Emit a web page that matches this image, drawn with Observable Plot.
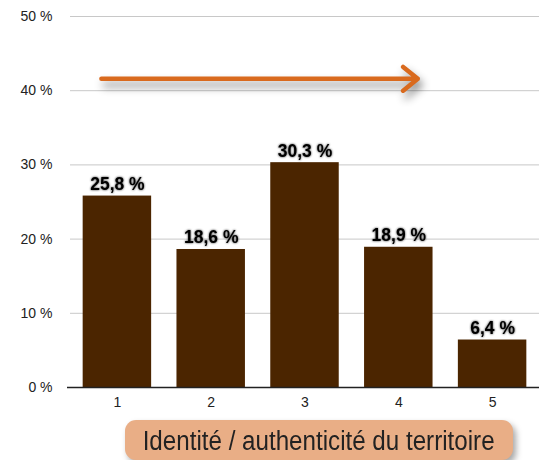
<!DOCTYPE html>
<html>
<head>
<meta charset="utf-8">
<script src="https://cdn.jsdelivr.net/npm/d3@7"></script>
<script src="https://cdn.jsdelivr.net/npm/@observablehq/plot@0.6"></script>
<style>
  html, body { margin: 0; padding: 0; background: #fff; }
  #chart { width: 549px; }
  .caption {
    margin-left: 125px; margin-top: 2px;
    width: 388px; height: 40px;
    background: #E9AE86; border-radius: 11px;
    box-shadow: 3px 4px 6px rgba(0,0,0,0.35);
    display: flex; align-items: center; justify-content: center;
    overflow: visible;
  }
  .caption span {
    font-family: "Liberation Sans", Arial, sans-serif;
    font-size: 27px; color: #222; white-space: nowrap;
    display: inline-block; transform: scaleX(0.895); transform-origin: center;
    position: relative; top: 1px;
  }
</style>
</head>
<body>
<div id="chart"></div>
<script>
const categories = ["1", "2", "3", "4", "5"];
const values = [25.8, 18.6, 30.3, 18.9, 6.4];
const yTicks = [0, 10, 20, 30, 40, 50];
const arrowFrom = "1";
const arrowTo = "4";
const arrowLevel = 41.6;
const captionText = "Identité / authenticité du territoire";

const data = categories.map((c, i) => ({cat: c, value: values[i]}));
const fmt = v => v.toFixed(1).replace(".", ",") + " %";

const chart = Plot.plot({
  width: 549,
  height: 418,
  marginLeft: 70,
  marginRight: 10,
  marginTop: 16,
  marginBottom: 31,
  style: {fontFamily: "'Liberation Sans', Arial, sans-serif", fontSize: "14px", color: "#222", background: "#fff"},
  x: {type: "band", domain: categories, paddingInner: 0.27, paddingOuter: 0.135, round: false, tickSize: 0, tickPadding: 10, label: null},
  y: {domain: [0, 50], ticks: yTicks, tickFormat: d => d + " %", tickSize: 0, tickPadding: 18, label: null},
  marks: [
    Plot.ruleY(yTicks.filter(d => d > 0), {stroke: "#c8c8c8", strokeWidth: 1}),
    Plot.barY(data, {x: "cat", y: "value", fill: "#4B2500"}),
    Plot.ruleY([0], {stroke: "#222", strokeWidth: 1.6, insetLeft: -3}),
    Plot.text(data, {x: "cat", y: "value", text: d => fmt(d.value), lineAnchor: "bottom", dy: -6, fontSize: 17.5, fontWeight: "bold", fill: "#000"}),
    Plot.arrow([{from: arrowFrom, to: arrowTo, level: arrowLevel}], {
      x1: "from", x2: "to", y1: "level", y2: "level",
      stroke: "#D96A1E", strokeWidth: 4.5, headAngle: 78, headLength: 6.3,
      insetStart: -16, insetEnd: -19
    })
  ]
});

d3.select(chart).selectAll('g[aria-label="text"]').style("filter", "drop-shadow(0 0 1.3px rgba(0,0,0,0.8))");
d3.select(chart).selectAll('g[aria-label="arrow"]').style("filter", "drop-shadow(3px 6px 4px rgba(0,0,0,0.45))");

document.getElementById("chart").appendChild(chart);

const cap = document.createElement("div");
cap.className = "caption";
const sp = document.createElement("span");
sp.textContent = captionText;
cap.appendChild(sp);
document.body.appendChild(cap);
</script>
</body>
</html>
